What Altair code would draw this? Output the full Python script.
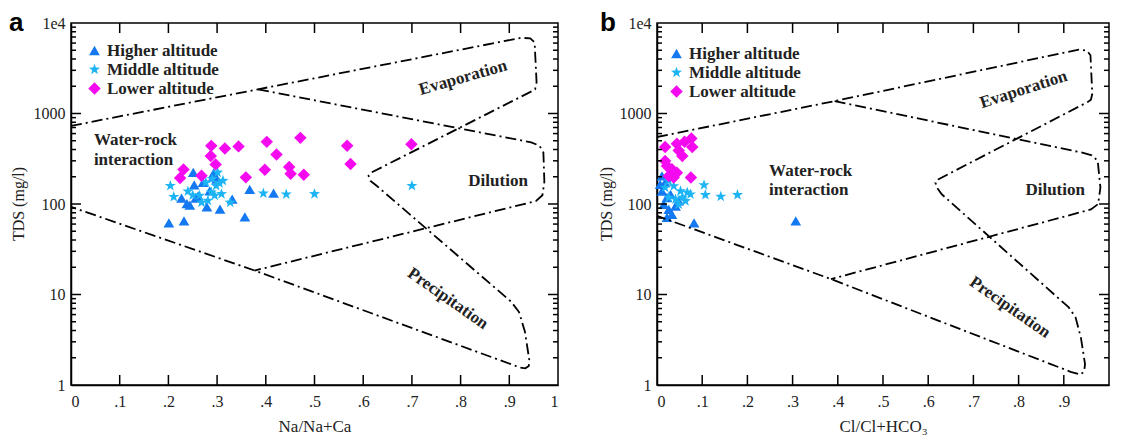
import altair as alt
import pandas as pd

# ---------------- data ----------------
GROUPS = ["Higher altitude", "Middle altitude", "Lower altitude"]
COLORS = ["#1478F0", "#1CB4F5", "#F50AF0"]
STAR = ("M0,-1L0.235,-0.324L0.951,-0.309L0.38,0.124L0.588,0.809L0,0.4"
        "L-0.588,0.809L-0.38,0.124L-0.951,-0.309L-0.235,-0.324Z")
SHAPES = ["triangle-up", STAR, "diamond"]
SIZES = [115, 155, 110]

# panel a : Na/(Na+Ca) vs TDS
a_hi_x = [0.201, 0.232, 0.251, 0.253, 0.227, 0.238, 0.244, 0.256, 0.279, 0.293, 0.306, 0.331, 0.357, 0.367, 0.416, 0.271, 0.285, 0.299, 0.261, 0.292]
a_hi_y = [62, 65, 223, 163, 116, 101, 97, 116, 93, 220, 88, 113, 72, 145, 132, 173, 140, 188, 123, 200]
a_mid_x = [0.204, 0.211, 0.240, 0.264, 0.281, 0.288, 0.301, 0.312, 0.295, 0.309, 0.327, 0.395, 0.442, 0.500, 0.700, 0.277, 0.268, 0.298, 0.290, 0.305, 0.250]
a_mid_y = [159, 120, 138, 124, 109, 135, 223, 181, 124, 129, 104, 131, 128, 129, 159, 173, 104, 159, 190, 170, 125]
a_lo_x = [0.288, 0.316, 0.344, 0.402, 0.471, 0.567, 0.699, 0.287, 0.422, 0.297, 0.231, 0.224, 0.268, 0.359, 0.398, 0.448, 0.451, 0.478, 0.574]
a_lo_y = [439, 410, 433, 486, 538, 440, 458, 340, 353, 274, 241, 194, 205, 197, 239, 256, 216, 210, 276]

# panel b : Cl/(Cl+HCO3) vs TDS
b_hi_x = [0.011, 0.018, 0.011, 0.022, 0.015, 0.026, 0.041, 0.033, 0.022, 0.048, 0.007, 0.030, 0.082, 0.307]
b_hi_y = [204, 172, 139, 118, 99, 87, 95, 77, 71, 108, 165, 128, 62, 65]
b_mid_x = [0.104, 0.107, 0.141, 0.178, 0.026, 0.037, 0.052, 0.067, 0.074, 0.056, 0.041, 0.026, 0.048, 0.018, 0.063]
b_mid_y = [162, 126, 121, 126, 180, 158, 139, 134, 128, 118, 113, 118, 99, 152, 108]
b_lo_x = [0.018, 0.044, 0.061, 0.076, 0.078, 0.056, 0.048, 0.022, 0.033, 0.044, 0.026, 0.075, 0.018, 0.037]
b_lo_y = [426, 463, 487, 530, 426, 339, 391, 263, 242, 222, 204, 196, 298, 196]

# Gibbs boundary lines (dash-dot)
a_l1_x = [0, 0.384, 0.925, 0.943, 0.952, 0.956, 0.953, 0.946, 0.617, 0.611, 0.615, 0.627, 0.904, 0.920, 0.932, 0.941, 0.940, 0.933, 0.922, 0.377, 0]
a_l1_y = [730, 1850, 6870, 6750, 6100, 2200, 1850, 1760, 223, 205, 180, 160, 8.3, 6.4, 3.9, 1.9, 1.62, 1.53, 1.56, 18.4, 93]
a_l2_x = [0.384, 0.945, 0.962, 0.970, 0.972, 0.968, 0.955, 0.377]
a_l2_y = [1850, 480, 440, 370, 175, 125, 108, 18.4]
b_l1_x = [0, 0.393, 0.933, 0.951, 0.959, 0.963, 0.960, 0.953, 0.622, 0.616, 0.620, 0.630, 0.911, 0.926, 0.938, 0.947, 0.945, 0.937, 0.915, 0.385, 0]
b_l1_y = [550, 1371, 5080, 4950, 4400, 1650, 1420, 1340, 187, 172, 150, 128, 7.2, 5.6, 3.3, 1.7, 1.42, 1.30, 1.40, 14.8, 74]
b_l2_x = [0.393, 0.941, 0.962, 0.975, 0.981, 0.976, 0.960, 0.385]
b_l2_y = [1371, 369, 345, 300, 152, 100, 87, 14.8]

# annotations: text, x, y, angle, align
a_notes = [("Evaporation", 0.805, 2490, 344, "center"), ("Dilution", 0.877, 181, 0, "center"),
           ("Precipitation", 0.774, 9.0, 35, "center"), ("Water-rock", 0.047, 511, 0, "left"),
           ("interaction", 0.047, 308, 0, "left")]
b_notes = [("Evaporation", 0.811, 1840, 342, "center"), ("Dilution", 0.881, 142, 0, "center"),
           ("Precipitation", 0.781, 7.2, 35, "center"), ("Water-rock", 0.248, 232, 0, "left"),
           ("interaction", 0.248, 142, 0, "left")]

Y_TITLE = "TDS (mg/l)"
Y_MAJOR = [10, 100, 1000]
Y_MINOR = [m * 10 ** k for k in range(4) for m in range(2, 10)]
X_TICKS = [0.1, 0.2, 0.3, 0.4, 0.5, 0.6, 0.7, 0.8, 0.9]

SERIF = "Liberation Serif"
INK = "#222222"
H = 362


def panel(letter, xs, ys, lines, notes, xtitle, width, xlabels, lx, ly, letter_dx, ytitle_dx):
    xscale = alt.Scale(domain=[0, 1], nice=False, zero=False)
    yscale = alt.Scale(type="log", domain=[1, 10000], nice=False)

    rows = []
    for g, (px, py) in zip(GROUPS, zip(xs, ys)):
        for a, b in zip(px, py):
            rows.append({"x": a, "y": b, "g": g})
    pts = pd.DataFrame(rows)

    lrows = []
    for i, (lxs, lys) in enumerate(lines):
        for j, (a, b) in enumerate(zip(lxs, lys)):
            lrows.append({"x": a, "y": b, "seg": i, "ord": j})
    ldf = pd.DataFrame(lrows)

    leg = alt.Legend(title=None, orient="none", legendX=lx, legendY=ly, padding=0,
                     labelFont=SERIF, labelFontSize=17, labelFontWeight="bold",
                     labelColor=INK, symbolSize=70, rowPadding=1, labelOffset=4,
                     symbolStrokeWidth=0)

    xaxis = alt.Axis(values=xlabels, ticks=False, grid=False, domainColor="black",
                     domainWidth=1.5, labelFont=SERIF, labelFontSize=16, labelColor=INK,
                     labelPadding=8,
                     labelExpr="datum.value == 0 ? '0' : datum.value >= 1 ? '1' : replace(format(datum.value, '.1f'), '0.', '.')",
                     title=xtitle, titleFont=SERIF, titleFontSize=17,
                     titleFontWeight="normal", titleColor=INK, titlePadding=9)
    yaxis = alt.Axis(values=[1, 10, 100, 1000, 10000], ticks=False, grid=False,
                     domainColor="black", domainWidth=1.5, labelFont=SERIF,
                     labelFontSize=16, labelColor=INK, labelPadding=6,
                     labelExpr="datum.value >= 10000 ? '1e4' : format(datum.value, 'd')",
                     title=None)

    X = lambda: alt.X("x:Q", scale=xscale)
    Y = lambda: alt.Y("y:Q", scale=yscale)

    points = alt.Chart(pts).mark_point(filled=True, opacity=1, strokeWidth=0).encode(
        x=alt.X("x:Q", scale=xscale, axis=xaxis),
        y=alt.Y("y:Q", scale=yscale, axis=yaxis),
        color=alt.Color("g:N", scale=alt.Scale(domain=GROUPS, range=COLORS), legend=leg),
        shape=alt.Shape("g:N", scale=alt.Scale(domain=GROUPS, range=SHAPES), legend=leg),
        size=alt.Size("g:N", scale=alt.Scale(domain=GROUPS, range=SIZES), legend=None),
    )

    blines = alt.Chart(ldf).mark_line(color="black", strokeWidth=1.8,
                                      strokeDash=[11, 4, 2, 4]).encode(
        x=X(), y=Y(), detail="seg:N", order="ord:Q")

    layers = [blines]
    for t, x, y, ang, al in notes:
        d = pd.DataFrame({"x": [x], "y": [y], "t": [t]})
        layers.append(alt.Chart(d).mark_text(font=SERIF, fontSize=17, fontWeight="bold",
                                             color=INK, angle=ang, align=al,
                                             baseline="middle").encode(
            x=X(), y=Y(), text="t:N"))

    ymaj = pd.DataFrame({"y": Y_MAJOR})
    ymin = pd.DataFrame({"y": Y_MINOR})
    xt = pd.DataFrame({"x": X_TICKS})
    tick = dict(color="black", strokeWidth=1.5)
    layers += [
        alt.Chart(ymaj).mark_rule(**tick).encode(y=Y(), x=alt.value(0), x2=alt.value(10)),
        alt.Chart(ymaj).mark_rule(**tick).encode(y=Y(), x=alt.value(width - 10), x2=alt.value(width)),
        alt.Chart(ymin).mark_rule(**tick).encode(y=Y(), x=alt.value(0), x2=alt.value(5)),
        alt.Chart(ymin).mark_rule(**tick).encode(y=Y(), x=alt.value(width - 5), x2=alt.value(width)),
        alt.Chart(xt).mark_rule(**tick).encode(x=X(), y=alt.value(H - 10), y2=alt.value(H)),
        alt.Chart(xt).mark_rule(**tick).encode(x=X(), y=alt.value(0), y2=alt.value(10)),
    ]
    # y-axis title as a rotated text
    yt = pd.DataFrame({"t": [Y_TITLE]})
    layers.append(alt.Chart(yt).mark_text(font=SERIF, fontSize=16, color=INK, angle=270,
                                          align="center", baseline="middle").encode(
        text="t:N", x=alt.value(ytitle_dx), y=alt.value(H / 2)))
    # panel letter
    lab = pd.DataFrame({"t": [letter]})
    layers.append(alt.Chart(lab).mark_text(font="Liberation Sans", fontSize=26,
                                           fontWeight="bold", color="black",
                                           align="left", baseline="alphabetic").encode(
        text="t:N", x=alt.value(letter_dx), y=alt.value(8)))

    return alt.layer(points, *layers).properties(width=width, height=H)


left = panel("a", [a_hi_x, a_mid_x, a_lo_x], [a_hi_y, a_mid_y, a_lo_y],
             [(a_l1_x, a_l1_y), (a_l2_x, a_l2_y)], a_notes, "Na/Na+Ca", 487,
             [0, 0.1, 0.2, 0.3, 0.4, 0.5, 0.6, 0.7, 0.8, 0.9, 1], 15, 19, -62, -52)
right = panel("b", [b_hi_x, b_mid_x, b_lo_x], [b_hi_y, b_mid_y, b_lo_y],
              [(b_l1_x, b_l1_y), (b_l2_x, b_l2_y)], b_notes, "Cl/Cl+HCO₃", 452,
              [0, 0.1, 0.2, 0.3, 0.4, 0.5, 0.6, 0.7, 0.8, 0.9], 11, 22, -57, -50)

chart = alt.hconcat(left, right, spacing=38).resolve_scale(
    color="independent", shape="independent", size="independent"
).resolve_legend(color="independent", shape="independent").configure(
    padding={"left": 0, "top": 1, "right": 0, "bottom": 0}, background="white"
).configure_view(stroke="black", strokeWidth=1.5)

chart.save("out.html", embed_options={"renderer": "svg", "actions": False})
